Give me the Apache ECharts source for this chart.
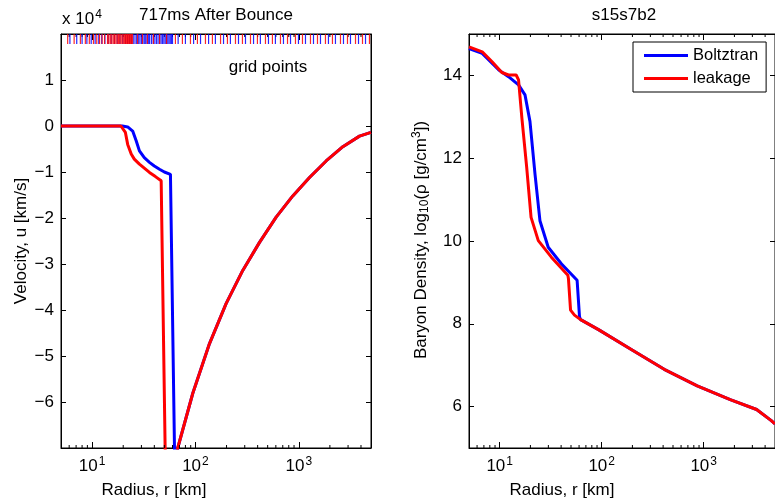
<!DOCTYPE html>
<html>
<head>
<meta charset="utf-8">
<script src="https://cdn.jsdelivr.net/npm/echarts@6/dist/echarts.min.js"></script>
<style>html,body{margin:0;padding:0;background:#fff}#chart{width:775px;height:502px}</style>
</head>
<body>
<div id="chart"></div>
<script>
// radius in km, velocity in units of 1e4 km/s
const velBlueR = [5, 10, 15, 19.6, 22.1, 24.7, 26.7, 28.7, 32, 35.9, 40, 44.9, 50, 57.3, 62.7, 63.5, 66, 67.4, 94.3, 136.8, 198, 287, 417, 604, 875, 1270, 1840, 2670, 3870, 4910, 5000];
const velBlue  = [0, 0, 0, 0, -0.02, -0.11, -0.32, -0.54, -0.69, -0.79, -0.87, -0.94, -1.0, -1.05, -7.0, -7.6, -7.3, -7.0, -5.81, -4.73, -3.86, -3.14, -2.53, -1.98, -1.52, -1.12, -0.76, -0.45, -0.22, -0.145, -0.14];
const velRedR  = [5, 10, 15, 19, 19.5, 21, 22.1, 23.9, 25.6, 28.7, 35.9, 41, 46.6, 50.9, 52, 60, 67.4, 94.3, 136.8, 198, 287, 417, 604, 875, 1270, 1840, 2670, 3870, 4910, 5000];
const velRed   = [0, 0, 0, 0, -0.02, -0.14, -0.4, -0.61, -0.72, -0.83, -1.01, -1.1, -1.19, -7.0, -7.4, -7.6, -7.0, -5.81, -4.73, -3.86, -3.14, -2.53, -1.98, -1.52, -1.12, -0.76, -0.45, -0.22, -0.145, -0.14];

// log10 of baryon density
const rhoBlueR = [5, 6.74, 9.8, 12.2, 15.3, 17.7, 19.8, 22.2, 24.8, 29.9, 40.2, 57.4, 60.6, 62.1, 93, 195, 410, 864, 1820, 3300, 4600, 5000];
const rhoBlue  = [14.65, 14.53, 14.13, 13.97, 13.77, 13.53, 12.89, 11.61, 10.49, 9.85, 9.45, 9.05, 8.17, 8.1, 7.86, 7.38, 6.90, 6.50, 6.17, 5.93, 5.66, 5.58];
const rhoRedR  = [5, 6.74, 8.42, 10.5, 12.2, 14.5, 15.3, 16.5, 18.4, 20.3, 23.9, 32.1, 46.6, 47.2, 49.5, 54.1, 62.1, 93, 195, 410, 864, 1820, 3300, 4600, 5000];
const rhoRed   = [14.69, 14.57, 14.33, 14.07, 14.01, 14.01, 13.89, 12.97, 11.77, 10.57, 10.01, 9.61, 9.17, 9.09, 8.33, 8.21, 8.1, 7.86, 7.38, 6.90, 6.50, 6.17, 5.93, 5.66, 5.58];

// grid point radii (km) shown as ticks along the top of the velocity panel
const gridBlue = [6.1, 7.1, 8.0, 8.9, 9.8, 10.7, 11.6, 12.4, 13.3, 14.3, 15.3, 16.4, 17.5, 18.6, 19.8, 21, 22, 23, 24, 25, 26, 27, 28, 29, 30, 31, 32, 33, 34, 35, 36, 37.5, 39, 40.5, 42, 43.5, 45, 46.5, 48, 49.5, 51, 52.5, 54, 55.5, 57, 58.5, 60, 68, 80, 96, 112, 134, 156, 187, 218, 261, 305, 365, 425, 509, 594, 711, 832, 993, 1161, 1388, 1622, 1937, 2264, 2708, 3165, 3785, 4425];
const gridRed  = [5.8, 6.7, 7.7, 8.6, 9.4, 10.3, 11.1, 11.8, 12.5, 13.2, 14.1, 14.5, 15, 15.5, 16, 16.5, 17, 17.5, 18, 18.5, 19, 19.5, 20, 20.5, 21, 21.5, 22, 22.5, 23, 23.5, 24, 24.6, 27.5, 30.7, 34.3, 39.2, 45, 52.5, 64, 74.8, 89.5, 104.5, 125, 146, 175, 204, 244, 285, 341, 398, 476, 556, 665, 778, 929, 1086, 1298, 1517, 1812, 2118, 2533, 2960, 3540, 4137, 4830];

const minorTicks = [6, 7, 8, 9, 20, 30, 40, 50, 60, 70, 80, 90, 200, 300, 400, 500, 600, 700, 800, 900, 2000, 3000, 4000];

const FONT = 'Liberation Sans, Arial, sans-serif';
const BLUE = '#0000ff', RED = '#ff0000';
const pairs = (xs, ys) => xs.map((x, i) => [x, ys[i]]);
const minus = v => String(v).replace('-', '\u2212');

const chart = echarts.init(document.getElementById('chart'));

function xLog(gi, pos, labels) {
  return {
    type: 'log', logBase: 10, gridIndex: gi, position: pos, min: 5, max: 5000,
    axisLine: { show: true, onZero: false, lineStyle: { color: '#000', width: 1 } },
    axisTick: { show: true, inside: true, length: 6, lineStyle: { color: '#000' } },
    splitLine: { show: false },
    axisLabel: {
      show: labels, margin: 8, color: '#000', showMinLabel: false, showMaxLabel: false,
      formatter: v => '{b|10}{s|' + Math.round(Math.log10(v)) + '}',
      rich: {
        b: { fontSize: 17, fontFamily: FONT, color: '#000' },
        s: { fontSize: 12, fontFamily: FONT, color: '#000', padding: [0, 0, 9, 1] }
      }
    }
  };
}

function yVal(gi, pos, labels, extra) {
  return Object.assign({
    type: 'value', gridIndex: gi, position: pos,
    axisLine: { show: true, onZero: false, lineStyle: { color: '#000', width: 1 } },
    axisTick: { show: true, inside: true, length: 5, lineStyle: { color: '#000' } },
    splitLine: { show: false },
    axisLabel: { show: labels, margin: 7, color: '#000', fontSize: 17, fontFamily: FONT,
      showMinLabel: false, showMaxLabel: false, formatter: minus }
  }, extra);
}

function minorSeries(xi, yi, lo, hi) {
  return {
    type: 'custom', xAxisIndex: xi, yAxisIndex: yi, silent: true, clip: false, z: 5,
    data: minorTicks.map(v => [v, lo]),
    renderItem: (params, api) => {
      const b = api.coord([api.value(0), lo]);
      const t = api.coord([api.value(0), hi]);
      return { type: 'group', children: [
        { type: 'line', shape: { x1: b[0], y1: b[1], x2: b[0], y2: b[1] - 3 }, style: { stroke: '#000', lineWidth: 1 } },
        { type: 'line', shape: { x1: t[0], y1: t[1], x2: t[0], y2: t[1] + 3 }, style: { stroke: '#000', lineWidth: 1 } }
      ]};
    }
  };
}

function gridMarks(rs, color) {
  return {
    type: 'custom', xAxisIndex: 0, yAxisIndex: 0, silent: true, clip: false, z: 6,
    data: rs.map(r => [r, 2]),
    renderItem: (params, api) => {
      const p = api.coord([api.value(0), 2]);
      return { type: 'line', shape: { x1: p[0], y1: p[1], x2: p[0], y2: p[1] + 10 },
        style: { stroke: color, lineWidth: 1.2, opacity: 0.85 } };
    }
  };
}

function curve(name, xi, yi, data, color) {
  return {
    name: name, type: 'line', xAxisIndex: xi, yAxisIndex: yi, data: data,
    showSymbol: false, symbol: 'none', silent: true, z: 3,
    lineStyle: { color: color, width: 3 }, itemStyle: { color: color }
  };
}

const txt = { fontSize: 17, fontFamily: FONT, fill: '#000' };

const option = {
  animation: false,
  backgroundColor: '#fff',
  grid: [
    { left: 61, top: 34, width: 310, height: 414, show: true, borderColor: '#000', borderWidth: 1 },
    { left: 469, top: 34, width: 309, height: 414, show: true, borderColor: '#000', borderWidth: 1 }
  ],
  xAxis: [xLog(0, 'bottom', true), xLog(0, 'top', false), xLog(1, 'bottom', true), xLog(1, 'top', false)],
  yAxis: [
    yVal(0, 'left', true, { min: -7, max: 2, interval: 1 }),
    yVal(0, 'right', false, { min: -7, max: 2, interval: 1 }),
    yVal(1, 'left', true, { min: 5, max: 15, splitNumber: 5 }),
    yVal(1, 'right', false, { min: 5, max: 15, splitNumber: 5 })
  ],
  legend: {
    data: ['Boltztran', 'leakage'], orient: 'vertical', left: 633, top: 42,
    padding: [5, 8, 5, 11], itemGap: 6, itemWidth: 44, itemHeight: 3, icon: 'rect',
    borderColor: '#000', borderWidth: 1, backgroundColor: '#fff', selectedMode: false,
    textStyle: { fontSize: 16.5, color: '#000', fontFamily: FONT }
  },
  graphic: [
    { type: 'text', x: 216, y: 15, style: Object.assign({ text: '717ms After Bounce', align: 'center', verticalAlign: 'middle' }, txt) },
    { type: 'text', x: 624, y: 15, style: Object.assign({ text: 's15s7b2', align: 'center', verticalAlign: 'middle' }, txt) },
    { type: 'text', x: 62, y: 19, style: Object.assign({ text: 'x {b|10}{s|4}', align: 'left', verticalAlign: 'middle',
        rich: { b: { fontSize: 17, fontFamily: FONT }, s: { fontSize: 12, fontFamily: FONT, padding: [0, 0, 9, 1] } } }, txt) },
    { type: 'text', x: 268, y: 67, z: 10, style: Object.assign({ text: 'grid points', align: 'center', verticalAlign: 'middle' }, txt) },
    { type: 'text', x: 154, y: 490, style: Object.assign({ text: 'Radius, r [km]', align: 'center', verticalAlign: 'middle' }, txt) },
    { type: 'text', x: 562, y: 490, style: Object.assign({ text: 'Radius, r [km]', align: 'center', verticalAlign: 'middle' }, txt) },
    { type: 'text', x: 21, y: 241, rotation: Math.PI / 2, style: Object.assign({ text: 'Velocity, u [km/s]', align: 'center', verticalAlign: 'middle' }, txt) },
    { type: 'text', x: 421, y: 240, rotation: Math.PI / 2, style: Object.assign({
        text: 'Baryon Density, log{sub|10}(\u03c1 [g/cm{sup|3}])', align: 'center', verticalAlign: 'middle',
        rich: { sub: { fontSize: 12, fontFamily: FONT, padding: [7, 0, 0, 0] }, sup: { fontSize: 12, fontFamily: FONT, padding: [0, 0, 9, 0] } } }, txt) }
  ],
  series: [
    curve('Boltztran', 0, 0, pairs(velBlueR, velBlue), BLUE),
    curve('leakage', 0, 0, pairs(velRedR, velRed), RED),
    curve('Boltztran', 2, 2, pairs(rhoBlueR, rhoBlue), BLUE),
    curve('leakage', 2, 2, pairs(rhoRedR, rhoRed), RED),
    gridMarks(gridBlue, BLUE),
    gridMarks(gridRed, RED),
    minorSeries(0, 0, -7, 2),
    minorSeries(2, 2, 5, 15)
  ]
};

chart.setOption(option);
</script>
</body>
</html>
